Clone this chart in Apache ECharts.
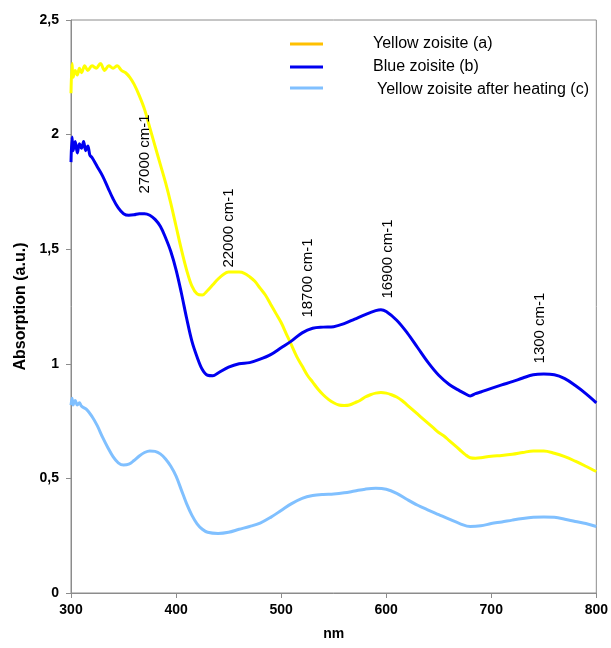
<!DOCTYPE html>
<html>
<head>
<meta charset="utf-8">
<script src="https://cdn.jsdelivr.net/npm/echarts@6/dist/echarts.min.js"></script>
<style>html,body{margin:0;padding:0;background:#fff}#c{width:611px;height:648px}</style>
</head>
<body>
<div id="c"></div>
<script>
var seriesNames = ['Yellow zoisite (a)', 'Blue zoisite (b)', 'Yellow zoisite after heating (c)'];
var yTickLabels = ['0', '0,5', '1', '1,5', '2', '2,5'];
var xTickLabels = ['300', '400', '500', '600', '700', '800'];
var peakLabels = ['27000 cm-1', '22000 cm-1', '18700 cm-1', '16900 cm-1', '1300 cm-1'];

var yellowX = [300,301,302,304,306,308,310,313,316,320,324,328,332,336,340,344,348,352,356,360,365,370,375,380,385,390,395,400,405,410,415,420,425,430,435,440,445,450,455,460,465,470,475,480,485,490,495,500,505,510,515,520,525,530,535,540,545,550,555,560,565,570,575,580,585,590,595,600,605,610,615,620,625,630,635,640,645,650,655,660,665,670,675,680,685,690,700,710,720,730,740,750,760,770,780,790,800];
var yellowY = [2.18,2.31,2.25,2.28,2.26,2.29,2.27,2.30,2.28,2.30,2.29,2.31,2.28,2.30,2.29,2.30,2.28,2.27,2.25,2.22,2.17,2.11,2.03,1.95,1.87,1.79,1.70,1.60,1.50,1.41,1.34,1.305,1.30,1.32,1.345,1.37,1.39,1.40,1.40,1.40,1.395,1.38,1.36,1.33,1.30,1.26,1.22,1.18,1.13,1.08,1.03,0.99,0.95,0.92,0.89,0.865,0.845,0.83,0.82,0.818,0.82,0.83,0.84,0.855,0.865,0.872,0.875,0.872,0.865,0.855,0.84,0.82,0.80,0.78,0.76,0.74,0.72,0.70,0.685,0.665,0.645,0.625,0.605,0.59,0.588,0.59,0.597,0.60,0.605,0.613,0.62,0.62,0.61,0.595,0.575,0.553,0.53];

var blueX = [300,301,302,304,306,308,310,312,314,316,318,320,325,330,335,340,345,350,355,360,365,370,375,380,385,390,395,400,405,410,415,420,425,430,435,440,450,460,470,480,490,500,510,520,530,540,550,560,570,580,590,595,600,610,620,630,640,650,660,670,675,680,685,690,700,710,720,730,740,750,760,770,780,790,800];
var blueY = [1.88,1.99,1.93,1.97,1.92,1.96,1.94,1.97,1.93,1.95,1.91,1.90,1.86,1.82,1.77,1.72,1.68,1.655,1.648,1.65,1.655,1.655,1.648,1.63,1.60,1.55,1.49,1.41,1.31,1.20,1.10,1.03,0.975,0.95,0.948,0.96,0.985,1.00,1.005,1.02,1.04,1.07,1.10,1.135,1.155,1.16,1.162,1.175,1.195,1.215,1.232,1.236,1.228,1.19,1.135,1.07,1.005,0.95,0.91,0.882,0.87,0.86,0.87,0.877,0.893,0.908,0.922,0.938,0.952,0.955,0.952,0.935,0.905,0.87,0.83];

var heatX = [300,301,302,304,306,308,310,315,320,325,330,335,340,345,350,355,360,365,370,375,380,385,390,395,400,405,410,415,420,425,430,440,450,460,470,480,490,500,510,520,530,540,550,560,570,580,590,600,610,620,630,640,650,660,670,680,690,700,710,720,730,740,750,760,770,780,790,800];
var heatY = [0.82,0.85,0.82,0.84,0.82,0.83,0.815,0.80,0.77,0.73,0.68,0.635,0.595,0.568,0.558,0.562,0.578,0.598,0.613,0.62,0.618,0.607,0.585,0.553,0.51,0.45,0.39,0.34,0.302,0.278,0.265,0.26,0.265,0.278,0.29,0.305,0.33,0.36,0.39,0.413,0.425,0.43,0.432,0.437,0.445,0.453,0.457,0.453,0.435,0.408,0.383,0.362,0.342,0.322,0.303,0.29,0.293,0.303,0.31,0.318,0.325,0.33,0.332,0.33,0.322,0.312,0.303,0.29];

function pairs(xs, ys){ return xs.map(function(x,i){ return [x, ys[i]]; }); }

var colors = ['#ffff00', '#0000f0', '#80c0ff'];
var legendColors = ['#ffc000', '#0000f0', '#80c0ff'];
var font = 'Liberation Sans, Arial, sans-serif';

var chart = echarts.init(document.getElementById('c'));
function lineSeries(name, xs, ys, color){
  return {
    name: name, type: 'line', data: pairs(xs, ys), showSymbol: false, symbol: 'none',
    smooth: 0.35, lineStyle: { color: color, width: 3 }, itemStyle: { color: color },
    animation: false, silent: true
  };
}

var labelPos = [[145,154],[229,228],[308,278],[388,259],[540,328]];

chart.setOption({
  backgroundColor: '#fff',
  animation: false,
  grid: { left: 71, right: 12, top: 20, bottom: 55, show: true, borderColor: '#8c8c8c', borderWidth: 1, backgroundColor: 'transparent' },
  xAxis: {
    type: 'value', min: 300, max: 800, interval: 100,
    name: 'nm', nameLocation: 'middle', nameGap: 34,
    nameTextStyle: { fontFamily: font, fontWeight: 'bold', fontSize: 14, color: '#000' },
    axisLine: { show: true, lineStyle: { color: '#8c8c8c', width: 1 } },
    axisTick: { show: true, length: 5, lineStyle: { color: '#8c8c8c' } },
    splitLine: { show: false },
    axisLabel: { fontFamily: font, fontWeight: 'bold', fontSize: 14, color: '#000', margin: 10,
      formatter: function(v){ return xTickLabels[Math.round((v-300)/100)]; } }
  },
  yAxis: {
    type: 'value', min: 0, max: 2.5, interval: 0.5,
    name: 'Absorption (a.u.)', nameLocation: 'middle', nameGap: 41,
    nameTextStyle: { fontFamily: font, fontWeight: 'bold', fontSize: 16, color: '#000' },
    axisLine: { show: true, lineStyle: { color: '#8c8c8c', width: 1 } },
    axisTick: { show: true, length: 5, lineStyle: { color: '#8c8c8c' } },
    splitLine: { show: false },
    axisLabel: { fontFamily: font, fontWeight: 'bold', fontSize: 14, color: '#000', margin: 12,
      formatter: function(v){ return yTickLabels[Math.round(v/0.5)]; } }
  },
  legend: {
    orient: 'vertical', left: 290, top: 36, padding: 0, itemWidth: 33, itemHeight: 3, itemGap: 7,
    icon: 'rect',
    data: seriesNames.map(function(n,i){ return { name: n, itemStyle: { color: legendColors[i] } }; }),
    formatter: function(name){ return (name === seriesNames[2] ? '{b|' : '{a|') + name + '}'; },
    textStyle: { fontFamily: font, fontSize: 16, color: '#000',
      rich: { a: { fontFamily: font, fontSize: 16, padding: [0,0,0,45] }, b: { fontFamily: font, fontSize: 16, padding: [4,0,0,49] } } },
    selectedMode: false
  },
  series: [
    lineSeries(seriesNames[0], yellowX, yellowY, colors[0]),
    lineSeries(seriesNames[1], blueX, blueY, colors[1]),
    lineSeries(seriesNames[2], heatX, heatY, colors[2])
  ],
  graphic: peakLabels.map(function(t,i){
    return { type: 'text', x: labelPos[i][0], y: labelPos[i][1], rotation: Math.PI/2, z: 100,
      style: { text: t, fontFamily: font, fontSize: 15, fill: '#000', align: 'center', verticalAlign: 'middle' } };
  })
});
</script>
</body>
</html>
